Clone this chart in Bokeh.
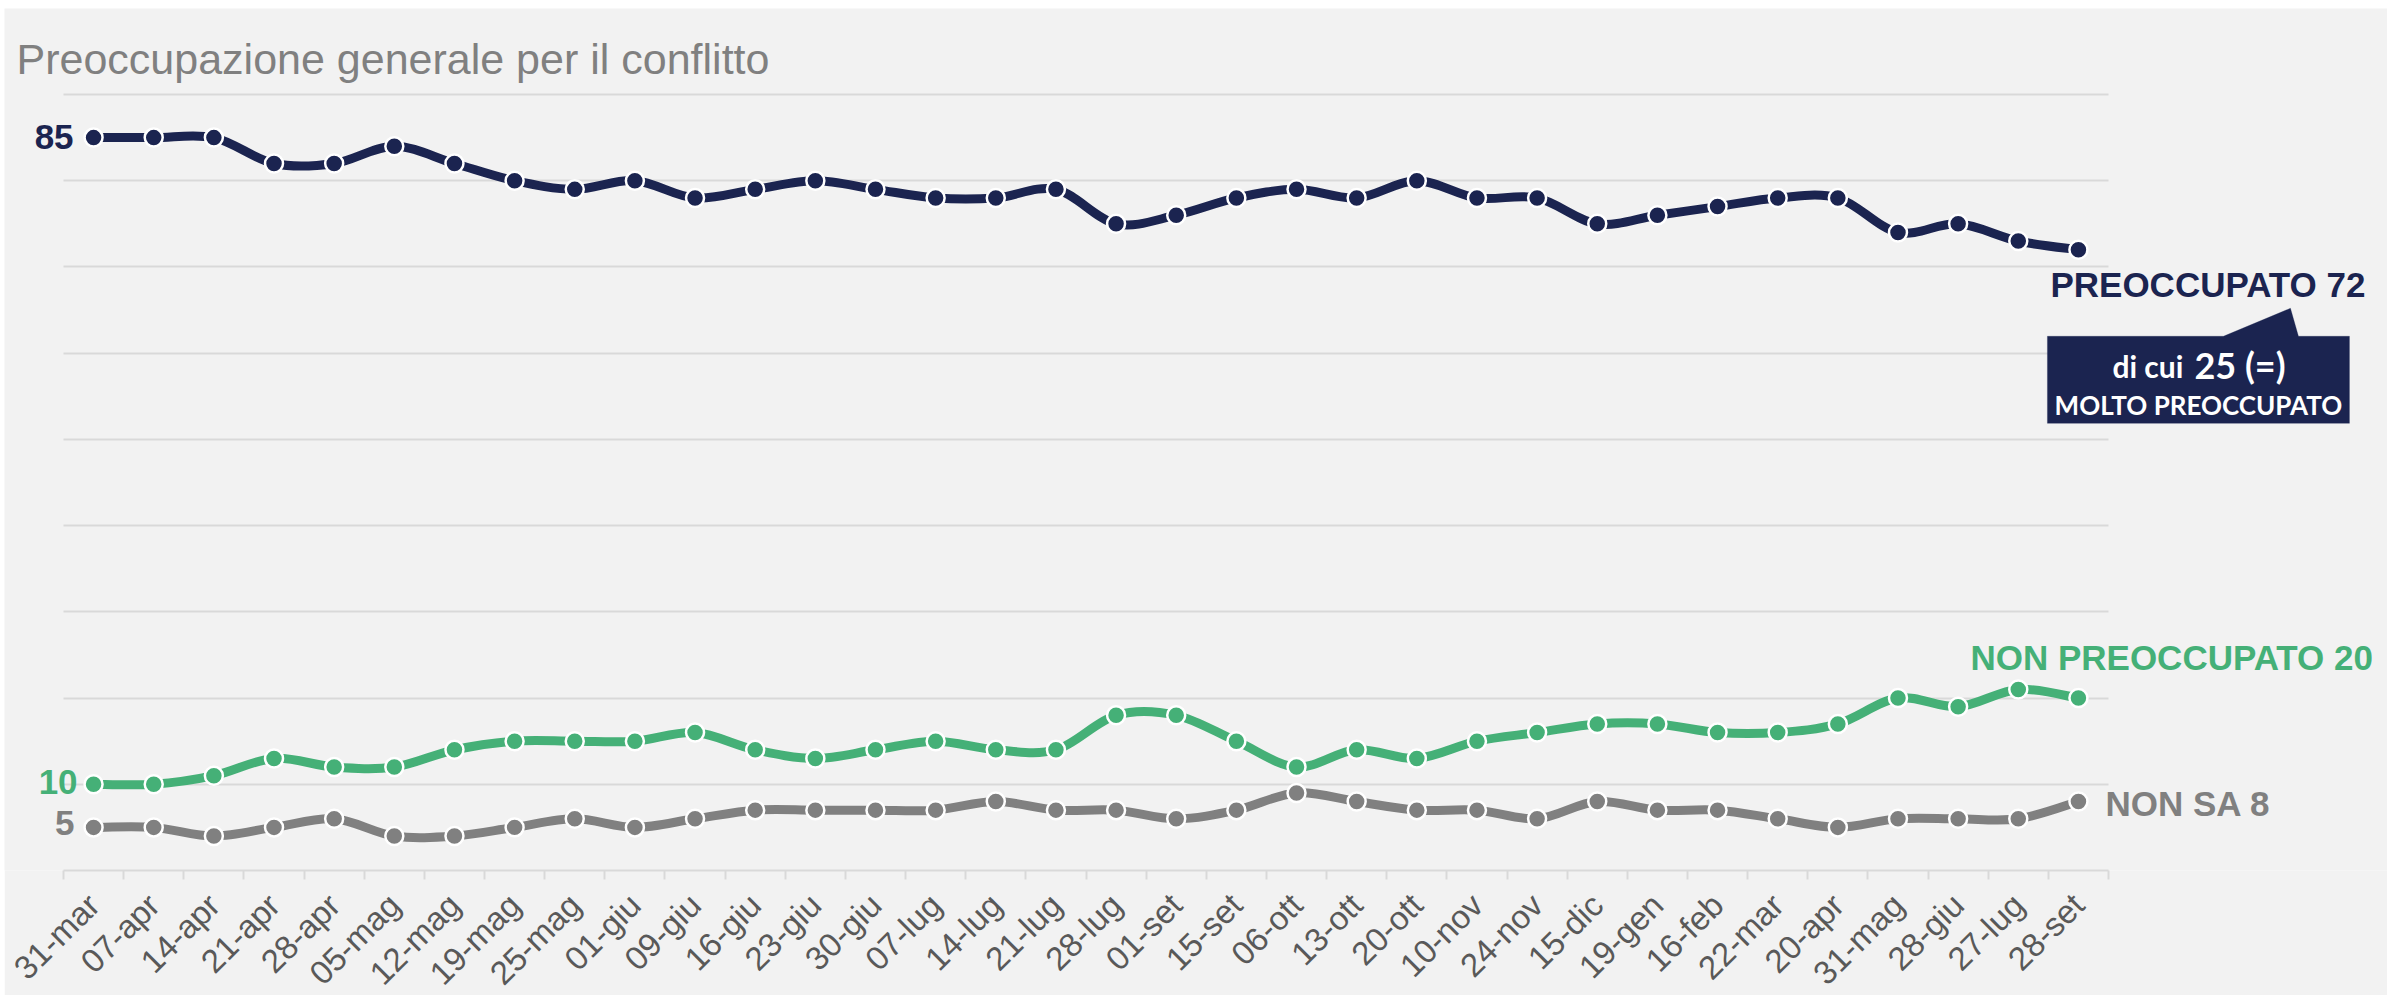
import math
from bokeh.plotting import figure
from bokeh.models import Range1d, FixedTicker, LinearAxis, Grid, Label, PolyAnnotation
from bokeh.embed import file_html
from bokeh.resources import INLINE

# ---------------- data ----------------
categories = ["31-mar", "07-apr", "14-apr", "21-apr", "28-apr", "05-mag", "12-mag", "19-mag",
              "25-mag", "01-giu", "09-giu", "16-giu", "23-giu", "30-giu", "07-lug", "14-lug",
              "21-lug", "28-lug", "01-set", "15-set", "06-ott", "13-ott", "20-ott", "10-nov",
              "24-nov", "15-dic", "19-gen", "16-feb", "22-mar", "20-apr", "31-mag", "28-giu",
              "27-lug", "28-set"]
preoccupato = [85, 85, 85, 82, 82, 84, 82, 80, 79, 80, 78, 79, 80, 79, 78, 78, 79,
               75, 76, 78, 79, 78, 80, 78, 78, 75, 76, 77, 78, 78, 74, 75, 73, 72]
non_preoccupato = [10, 10, 11, 13, 12, 12, 14, 15, 15, 15, 16, 14, 13, 14, 15, 14, 14,
                   18, 18, 15, 12, 14, 13, 15, 16, 17, 17, 16, 16, 17, 20, 19, 21, 20]
non_sa = [5, 5, 4, 5, 6, 4, 4, 5, 6, 5, 6, 7, 7, 7, 7, 8, 7,
          7, 6, 7, 9, 8, 7, 7, 6, 8, 7, 7, 6, 5, 6, 6, 6, 8]
molto_preoccupato = 25
grid_values = list(range(0, 91, 10))
title_text = "Preoccupazione generale per il conflitto"

NAVY = "#1b2450"
GREEN = "#45b077"
GREY = "#808080"

n = len(categories)
xs = list(range(n))

# ---------------- geometry (pixels) ----------------
MARGIN_TOP, MARGIN_LEFT = 8, 4
W, H = 2387 - MARGIN_LEFT, 995 - MARGIN_TOP
PLOT_LEFT = 63 - MARGIN_LEFT   # left edge of the category band area (in figure px)
AXIS_Y = 870 - MARGIN_TOP      # pixel row of the value 0 (in figure px)
PX_X = 2045 / n                # pixels per category
PX_Y = 776 / 90                # pixels per unit

x_start = -0.5 - PLOT_LEFT / PX_X
x_end = -0.5 + (W - PLOT_LEFT) / PX_X
y_end = AXIS_Y / PX_Y

p = figure(x_range=Range1d(x_start, x_end), y_range=Range1d(0, y_end),
           frame_width=W, frame_height=AXIS_Y,
           x_axis_location=None, y_axis_location=None,
           toolbar_location=None, output_backend="svg",
           background_fill_color="#f2f2f2", border_fill_color="#f2f2f2",
           min_border_left=0, min_border_right=0, min_border_top=0, min_border_bottom=H - AXIS_Y)
p.margin = (MARGIN_TOP, 0, 0, MARGIN_LEFT)
p.outline_line_color = None
p.grid.visible = False

# horizontal grid lines restricted to the category area
grid = Grid(dimension=1, ticker=FixedTicker(ticks=grid_values),
            grid_line_color="#d9d9d9", grid_line_width=1.8)
if "cross_bounds" in Grid.properties():
    grid.cross_bounds = (-0.5, n - 0.5)
    p.add_layout(grid)
else:
    p.segment(x0=[-0.5] * len(grid_values), y0=grid_values,
              x1=[n - 0.5] * len(grid_values), y1=grid_values,
              line_color="#d9d9d9", line_width=1.8)

# x axis
xaxis = LinearAxis(ticker=FixedTicker(ticks=xs, minor_ticks=[i - 0.5 for i in range(n + 1)]))
xaxis.bounds = (-0.5, n - 0.5)
xaxis.major_label_overrides = {i: c for i, c in enumerate(categories)}
xaxis.major_tick_line_color = None
xaxis.major_tick_out = 0
xaxis.major_tick_in = 0
xaxis.minor_tick_line_color = "#d9d9d9"
xaxis.minor_tick_line_width = 2
xaxis.minor_tick_out = 9
xaxis.minor_tick_in = 0
xaxis.axis_line_color = "#d9d9d9"
xaxis.axis_line_width = 2
xaxis.major_label_orientation = math.pi / 4
xaxis.major_label_standoff = 20
xaxis.major_label_text_font = "Liberation Sans"
xaxis.major_label_text_font_size = "33px"
xaxis.major_label_text_color = "#595959"
p.add_layout(xaxis, "below")


def smooth(vals, color):
    x0, y0, x1, y1, cx0, cy0, cx1, cy1 = [], [], [], [], [], [], [], []
    for i in range(n - 1):
        a = max(i - 1, 0)
        d = min(i + 2, n - 1)
        x0.append(xs[i]); y0.append(vals[i])
        x1.append(xs[i + 1]); y1.append(vals[i + 1])
        cx0.append(xs[i] + (xs[i + 1] - xs[a]) / 6.0)
        cy0.append(vals[i] + (vals[i + 1] - vals[a]) / 6.0)
        cx1.append(xs[i + 1] - (xs[d] - xs[i]) / 6.0)
        cy1.append(vals[i + 1] - (vals[d] - vals[i]) / 6.0)
    p.bezier(x0=x0, y0=y0, x1=x1, y1=y1, cx0=cx0, cy0=cy0, cx1=cx1, cy1=cy1,
             line_color=color, line_width=9, line_cap="round")
    p.scatter(xs, vals, size=18, fill_color=color, line_color="white", line_width=2.5)


smooth(non_sa, GREY)
smooth(non_preoccupato, GREEN)
smooth(preoccupato, NAVY)


def lab(x, y, text, color, dx, dy, align="left", size=35, font="Liberation Sans", style="bold"):
    # dy: pixels down from the anchor to the text baseline (corrected for rendering offset)
    dy_eff = dy - 0.3 * size
    p.add_layout(Label(x=x, y=y, text=text, x_offset=dx, y_offset=-dy_eff,
                       text_color=color, text_font=font, text_font_style=style,
                       text_font_size="%dpx" % size, text_align=align, text_baseline="alphabetic"))


last = n - 1
# start labels
lab(0, preoccupato[0], str(preoccupato[0]), NAVY, -20, 9.6, align="right")
lab(0, non_preoccupato[0], str(non_preoccupato[0]), GREEN, -16, 8.2, align="right")
lab(0, non_sa[0], str(non_sa[0]), GREY, -19, 6, align="right")
# end labels
lab(last, preoccupato[-1], "PREOCCUPATO %d" % preoccupato[-1], NAVY, -28, 45.6)
lab(last, non_preoccupato[-1], "NON PREOCCUPATO %d" % non_preoccupato[-1], GREEN, -108, -29.6)
lab(last, non_sa[-1], "NON SA %d" % non_sa[-1], GREY, 27, 12)

# callout box (pixel offsets from last point)
bx, by = last, preoccupato[-1]
pts = [(-31, 86.6), (145, 86.6), (212, 58.6), (220, 86.6), (271, 86.6), (271, 173.6), (-31, 173.6)]
p.add_layout(PolyAnnotation(xs=[bx + dx / PX_X for dx, dy in pts],
                            ys=[by - dy / PX_Y for dx, dy in pts],
                            fill_color=NAVY, fill_alpha=1.0, line_color=NAVY, line_width=1))
lab(bx, by, "di cui", "white", 34, 125.6, size=30, font="Lato")
lab(bx, by, "%d (=)" % molto_preoccupato, "white", 116, 125.6, size=36, font="Lato")
lab(bx, by, "MOLTO PREOCCUPATO", "white", 120, 162.6, align="center", size=26, font="Lato")

# title
lab(-0.5, grid_values[-1], title_text, "#808080", -47, -23, size=43, style="normal")

open("out.html", "w").write(file_html(p, INLINE))
